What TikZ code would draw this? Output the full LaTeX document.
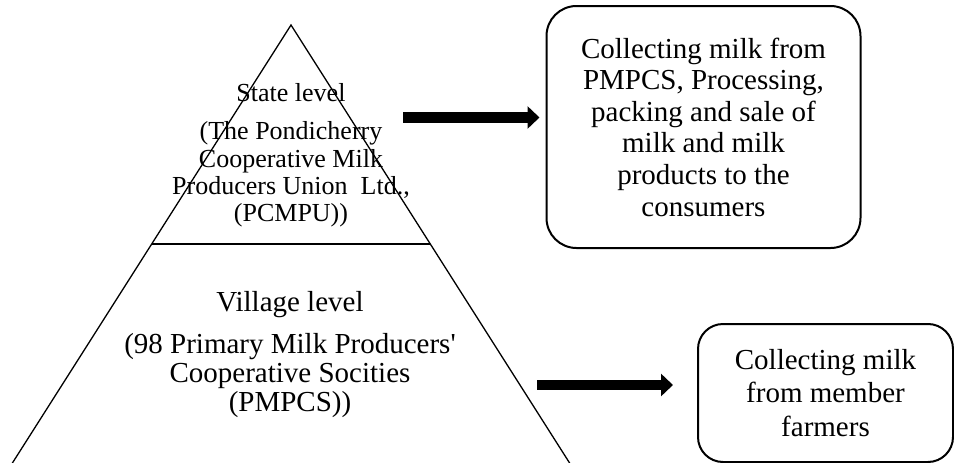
\documentclass[tikz,border=0pt]{standalone}
\usepackage{fontspec}
\setmainfont{Liberation Serif}
\usetikzlibrary{arrows.meta,calc}
\tikzset{
  pyr/.style={line width=1.3pt, line join=miter},
  divider/.style={line width=2pt},
  roundbox/.style={draw, line width=2pt, align=center, inner sep=0pt},
  blockarrow/.style={line width=10.5pt, -{Triangle[length=12pt,width=22pt]}},
  boxtext/.style={font=\fontsize{29}{31.6}\selectfont},
  leveltext/.style={align=center, inner sep=0pt},
}
\begin{document}
\begin{tikzpicture}[x=1pt,y=-1pt]
\useasboundingbox (0,0) rectangle (954,463);
\clip (0,0) rectangle (954,463);
% pyramid
\coordinate (apex) at (291,25);
\coordinate (bl) at (12.4,463);
\coordinate (br) at (569.6,463);
\draw[pyr] ($(apex)!1.1!(bl)$) -- (apex) -- ($(apex)!1.1!(br)$);
\draw[divider] ($(apex)!0.5!(bl)$) coordinate (dl) -- ($(apex)!0.5!(br)$) coordinate (dr);
% level texts
\node[leveltext, font=\fontsize{26}{27.3}\selectfont] (state) at (291,155.4)
  {State level\\[10.7pt](The Pondicherry\\Cooperative Milk\\Producers Union~ Ltd.,\\(PCMPU))};
\node[leveltext, font=\fontsize{29}{29}\selectfont] (village) at (290,354.7)
  {Village level\\[13pt](98 Primary Milk Producers\textquotesingle\\Cooperative Socities\\(PMPCS))};
% boxes
\node[roundbox, boxtext, rounded corners=30pt, minimum width=314pt, minimum height=242pt] (box1) at (703.5,127)
  {Collecting milk from\\PMPCS, Processing,\\packing and sale of\\milk and milk\\products to the\\consumers};
\node[roundbox, font=\fontsize{29}{33.5}\selectfont, rounded corners=25pt, minimum width=255pt, minimum height=138pt] (box2) at (825.5,393)
  {Collecting milk\\from member\\farmers};
% arrows
\coordinate (s1) at (403,117.5);
\coordinate (s2) at (537,385);
\draw[blockarrow, shorten >=6pt] (s1) -- (s1 -| box1.west);
\draw[blockarrow, shorten >=24pt] (s2) -- (s2 -| box2.west);
\end{tikzpicture}
\end{document}
